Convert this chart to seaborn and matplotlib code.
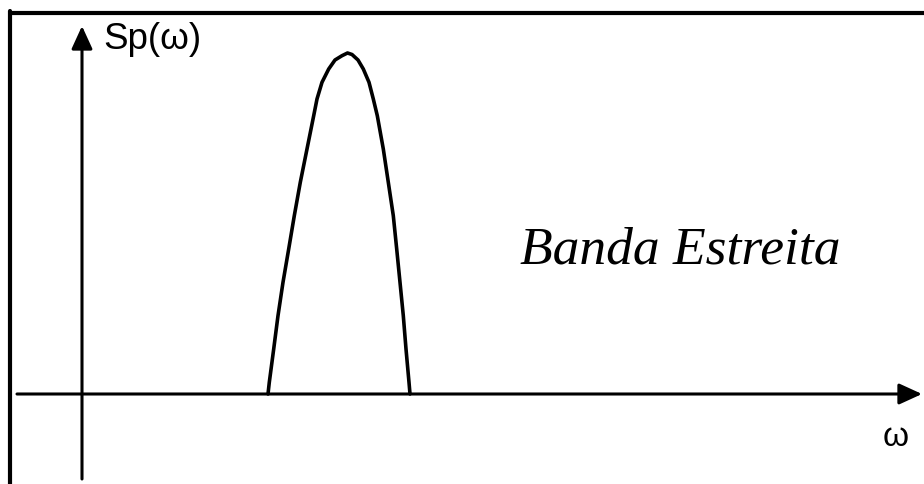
import matplotlib
matplotlib.use("Agg")
import matplotlib.pyplot as plt
import seaborn as sns
import pandas as pd
from matplotlib.lines import Line2D

# Narrow-band power spectral density Sp(ω): points along the lobe
omega = [18.6, 18.73, 19.17, 19.6, 20.1, 20.67, 21.23, 21.83, 22.5, 23.17,
         23.5, 24.0, 24.67, 25.3, 26.0, 26.55, 27.0, 27.6, 28.13, 28.7,
         29.13, 29.53, 30.13, 30.63, 31.13, 31.47, 31.8, 32.13, 32.4, 32.7,
         32.8]
sp = [0.0, 1.17, 4.5, 7.83, 11.17, 14.5, 17.83, 21.17, 24.5, 27.83,
      29.5, 31.17, 32.5, 33.4, 33.83, 34.1, 33.95, 33.4, 32.5, 31.17,
      29.5, 27.83, 24.5, 21.17, 17.83, 14.5, 11.17, 7.83, 4.5, 1.17,
      0.0]

axis_x_range = [-6.5, 84.0]
axis_y_range = [-8.5, 36.8]
y_label = "Sp(ω)"
x_label = "ω"
annotation = "Banda Estreita"

sns.set_style("white")
plt.rcParams["text.color"] = "black"
fig = plt.figure(figsize=(9.24, 4.85), dpi=100)
ax = fig.add_axes([0, 0, 1, 1])
ax.set_xlim(-8.2, 84.2)
ax.set_ylim(-9.0, 39.5)
ax.axis("off")

df = pd.DataFrame({"omega": omega, "Sp": sp})
sns.lineplot(data=df, x="omega", y="Sp", sort=False, color="black",
             linewidth=2.6, ax=ax, estimator=None)

arrow = dict(arrowstyle="-|>,head_length=0.7,head_width=0.32",
             mutation_scale=20, lw=2.2, color="black",
             shrinkA=0, shrinkB=0)
# horizontal ω axis
ax.annotate("", xy=(axis_x_range[1], 0), xytext=(axis_x_range[0], 0),
            arrowprops=arrow)
# vertical Sp axis
ax.annotate("", xy=(0, axis_y_range[1]), xytext=(0, axis_y_range[0]),
            arrowprops=arrow)

ax.text(2.1, 34.6, y_label, fontsize=26.5, color="black",
        family=["Liberation Sans", "DejaVu Sans"], ha="left", va="baseline")
ax.text(81.4, -4.3, x_label, fontsize=24, color="black",
        family=["Liberation Sans", "DejaVu Sans"], ha="center", va="center")
ax.text(67.8 - 8.0, 13.2, annotation, fontsize=38.5, color="black",
        family="Liberation Serif", style="italic", ha="center", va="baseline")

# frame along the top and left edges
fig.add_artist(Line2D([10 / 924, 1.0], [1 - 14 / 485, 1 - 14 / 485],
                      color="black", lw=3.0, transform=fig.transFigure))
fig.add_artist(Line2D([10 / 924, 10 / 924], [0.0, 1 - 12 / 485],
                      color="black", lw=3.0, transform=fig.transFigure))

fig.savefig("out.png", dpi=100, facecolor="white")
